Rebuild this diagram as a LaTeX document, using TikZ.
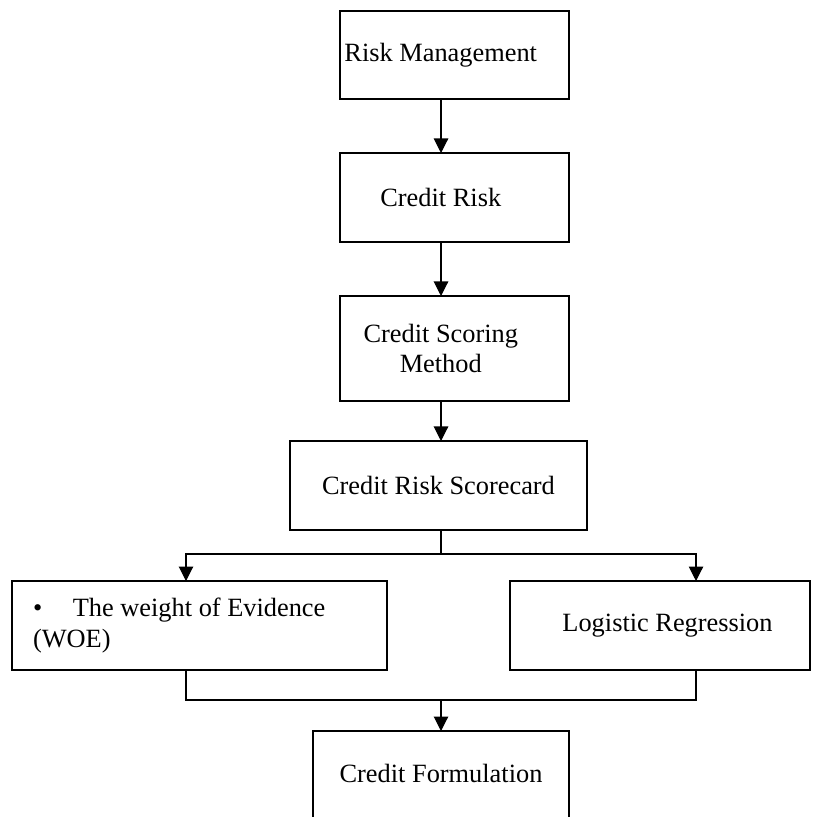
\documentclass[tikz,border=0pt]{standalone}
\usepackage{fontspec}
\setmainfont{Liberation Serif}
\usetikzlibrary{arrows.meta,positioning}

\begin{document}
\begin{tikzpicture}[font=\fontsize{12}{14}\selectfont,every label/.append style={align=center,inner sep=0pt},
  box/.style={rectangle, draw, line width=1.2pt, outer sep=0pt, minimum width=3.664cm, minimum height=1.424cm},
  flow/.style={-{Triangle[length=0.232cm,width=0.232cm]}, line width=0.5pt},
  link/.style={line width=0.5pt}]

\useasboundingbox (0,0) rectangle (12.992,-13.072);

\node[box, minimum height=1.408cm, label={[xshift=-0.22cm]center:Risk Management}](risk) at (7.272,-0.88){};
\node[box, below=0.864cm of risk, label={[xshift=-0.22cm]center:Credit Risk}](crisk){};
\node[box, below=0.864cm of crisk, minimum height=1.68cm, label={[xshift=-0.22cm]center:Credit Scoring\\Method}](scoring){};
\node[box, below=0.64cm of scoring, xshift=-0.256cm, minimum width=4.752cm, label={center:Credit Risk Scorecard}](scorecard){};

\node[box, below=0.816cm of scorecard, xshift=-3.824cm, minimum width=6cm, label={[text width=5.328cm,align=flush left]center:\textbullet\hspace{0.49cm}The weight of Evidence\\(WOE)}](woe){};
\node[box, below=0.816cm of scorecard, xshift=3.544cm, minimum width=4.8cm, label={[xshift=0.12cm]center:Logistic Regression}](logit){};

\node[box, below=3.216cm of scorecard, xshift=0.04cm, minimum width=4.096cm, minimum height=1.6cm, label={[yshift=0.12cm]center:Credit Formulation}](formula){};

\draw[flow] ([xshift=-0.216cm]risk.south) -- ([xshift=-0.216cm]crisk.north);
\draw[flow] ([xshift=-0.216cm]crisk.south) -- ([xshift=-0.216cm]scoring.north);
\draw[flow] ([xshift=-0.216cm]scoring.south) -- ([xshift=0.04cm]scorecard.north);

\draw[link] ([xshift=0.04cm]scorecard.south) -- ++(0,-0.384) coordinate (split);
\draw[flow] (split) -| ([xshift=-0.216cm]woe.north);
\draw[flow] (split) -| ([xshift=0.576cm]logit.north);

\draw[link] ([xshift=-0.216cm]woe.south) -- ++(0,-0.48) coordinate (merge) -| ([xshift=0.576cm]logit.south);
\draw[flow] (merge -| formula.north) -- (formula.north);

\end{tikzpicture}
\end{document}
